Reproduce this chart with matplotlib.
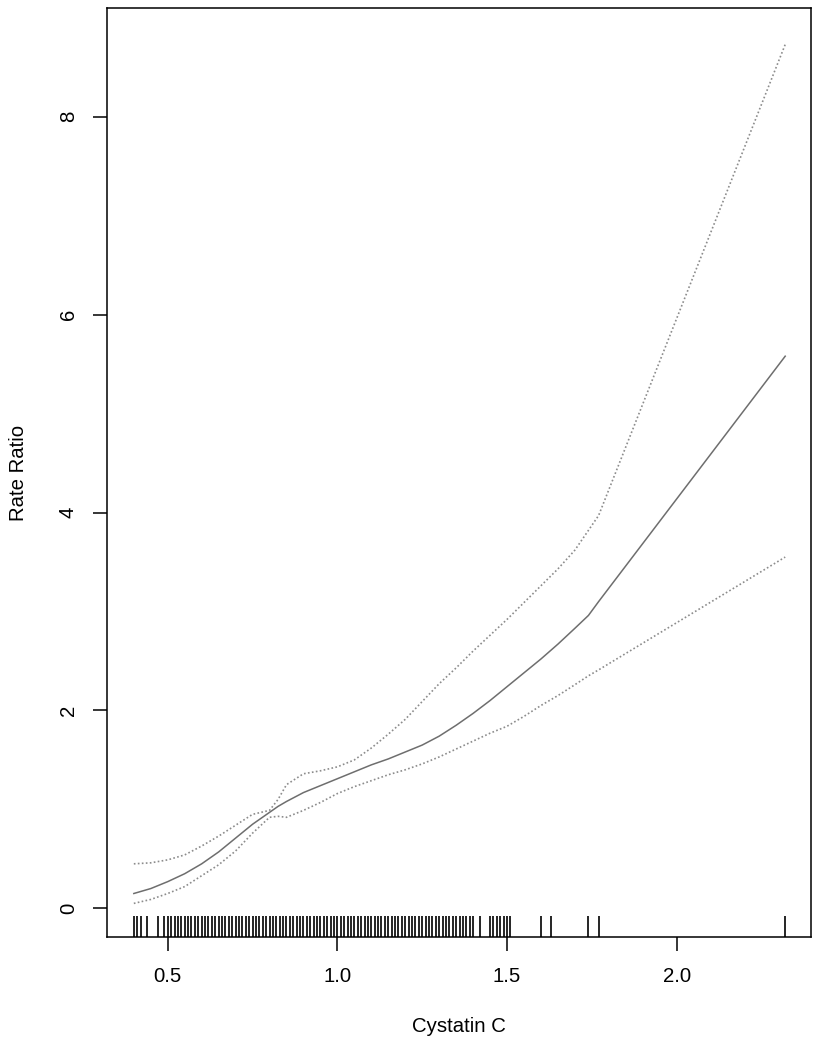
import matplotlib
matplotlib.use("Agg")
import matplotlib.pyplot as plt
import matplotlib.transforms as mtransforms

plt.rcParams['font.family'] = ['Liberation Sans', 'DejaVu Sans']

# Curve data (Cystatin C vs Rate Ratio)
cys = [0.40, 0.45, 0.50, 0.55, 0.60, 0.65, 0.70, 0.75, 0.80, 0.825, 0.85, 0.90, 0.95,
       1.00, 1.05, 1.10, 1.15, 1.20, 1.25, 1.30, 1.35, 1.40, 1.45, 1.50, 1.55,
       1.60, 1.65, 1.70, 1.74, 1.77, 2.32]
rr = [0.15, 0.20, 0.27, 0.35, 0.45, 0.57, 0.71, 0.85, 0.97, 1.03, 1.08, 1.17, 1.24,
      1.31, 1.38, 1.45, 1.51, 1.58, 1.65, 1.74, 1.85, 1.97, 2.10, 2.24, 2.38,
      2.52, 2.67, 2.83, 2.96, 3.10, 5.58]
rr_upper = [0.45, 0.46, 0.49, 0.54, 0.63, 0.73, 0.84, 0.95, 0.99, 1.10, 1.25, 1.36, 1.39,
            1.43, 1.50, 1.62, 1.76, 1.91, 2.09, 2.27, 2.43, 2.60, 2.76, 2.92, 3.09,
            3.26, 3.43, 3.62, 3.82, 3.97, 8.73]
rr_lower = [0.05, 0.09, 0.15, 0.22, 0.33, 0.44, 0.58, 0.76, 0.92, 0.93, 0.92, 0.99, 1.07,
            1.16, 1.23, 1.29, 1.35, 1.40, 1.46, 1.53, 1.61, 1.69, 1.77, 1.84, 1.94,
            2.05, 2.15, 2.26, 2.35, 2.41, 3.55]

# Rug (observed Cystatin C values)
rug = [0.40, 0.41, 0.42, 0.44, 0.47, 0.49, 0.50, 0.51, 0.52, 0.53, 0.54, 0.55,
       0.56, 0.57, 0.58, 0.59, 0.60, 0.61, 0.62, 0.63, 0.64, 0.65, 0.66, 0.67,
       0.68, 0.69, 0.70, 0.71, 0.72, 0.73, 0.74, 0.75, 0.76, 0.77, 0.78, 0.79,
       0.80, 0.81, 0.82, 0.83, 0.84, 0.85, 0.86, 0.87, 0.88, 0.89, 0.90, 0.91,
       0.92, 0.93, 0.94, 0.95, 0.96, 0.97, 0.98, 0.99, 1.00, 1.01, 1.02, 1.03,
       1.04, 1.05, 1.06, 1.07, 1.08, 1.09, 1.10, 1.11, 1.12, 1.13, 1.14, 1.15,
       1.16, 1.17, 1.18, 1.19, 1.20, 1.21, 1.22, 1.23, 1.24, 1.25, 1.26, 1.27,
       1.28, 1.29, 1.30, 1.31, 1.32, 1.33, 1.34, 1.35, 1.36, 1.37, 1.38, 1.39,
       1.40, 1.42, 1.45, 1.46, 1.47, 1.48, 1.49, 1.50, 1.51,
       1.60, 1.63, 1.74, 1.77, 2.32]

xticks = [0.5, 1.0, 1.5, 2.0]
xticklabels = ["0.5", "1.0", "1.5", "2.0"]
yticks = [0, 2, 4, 6, 8]
yticklabels = ["0", "2", "4", "6", "8"]

fig = plt.figure(figsize=(8.22, 10.5), dpi=100)
ax = fig.add_axes([0.1302, 0.1073, 0.8564, 0.8848])

ax.plot(cys, rr, color='#6e6e6e', lw=1.1, ls='-')
ax.plot(cys, rr_upper, color='#8c8c8c', lw=1.2, ls=(0, (1, 1.4)))
ax.plot(cys, rr_lower, color='#8c8c8c', lw=1.2, ls=(0, (1, 1.4)))

trans = mtransforms.blended_transform_factory(ax.transData, ax.transAxes)
ax.vlines(rug, 0, 0.0226, transform=trans, color='black', lw=1.2)

ax.set_xlim(0.321, 2.396)
ax.set_ylim(-0.293, 9.096)

ax.set_xticks(xticks)
ax.set_xticklabels(xticklabels)
ax.set_yticks(yticks)
ax.set_yticklabels(yticklabels, rotation=90, va='center')

ax.tick_params(axis='both', direction='out', length=10, width=1.1,
               labelsize=14.7, colors='black')
ax.tick_params(axis='x', pad=11)
ax.tick_params(axis='y', pad=11)

for s in ax.spines.values():
    s.set_linewidth(1.1)
    s.set_color('black')

fig.text(459 / 822, 1 - 1027 / 1050, "Cystatin C", ha='center', va='center',
         fontsize=14.7)
fig.text(19 / 822, 1 - 473 / 1050, "Rate Ratio", ha='center', va='center',
         rotation=90, fontsize=14.7)

fig.savefig("out.png", dpi=100)
